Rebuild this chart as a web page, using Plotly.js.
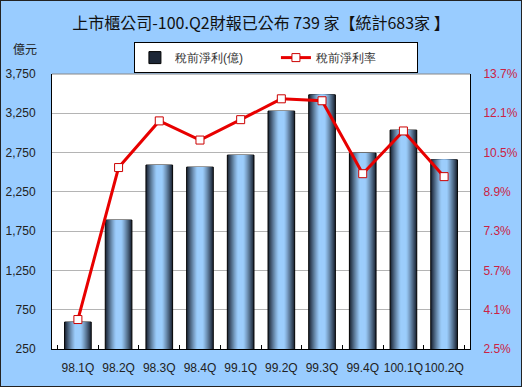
<!DOCTYPE html>
<html>
<head>
<meta charset="utf-8">
<script src="https://cdn.plot.ly/plotly-3.0.1.min.js"></script>
<style>
  html, body { margin: 0; padding: 0; background: #99ccff; }
  #wrap { width: 522px; height: 387px; box-sizing: border-box; border: 1px solid #222; overflow: hidden; }
  #chart { width: 520px; height: 385px; }
</style>
</head>
<body>
<div id="wrap"><div id="chart"></div></div>
<script>
// ---- data ----
const quarters = ['98.1Q','98.2Q','98.3Q','98.4Q','99.1Q','99.2Q','99.3Q','99.4Q','100.1Q','100.2Q'];
const profit = [593, 1891, 2591, 2565, 2718, 3278, 3485, 2743, 3036, 2658];   // 稅前淨利(億)
const margin = [3.70, 9.89, 11.79, 11.01, 11.84, 12.69, 12.61, 9.64, 11.38, 9.52]; // 稅前淨利率 %
const leftTicks = [250, 750, 1250, 1750, 2250, 2750, 3250, 3750];
const rightTicks = [2.5, 4.1, 5.7, 7.3, 8.9, 10.5, 12.1, 13.7];
const rightTickText = ['2.5%', '4.1%', '5.7%', '7.3%', '8.9%', '10.5%', '12.1%', '13.7%'];
const titleText = '上市櫃公司-100.Q2財報已公布 739 家【統計683家 】';
const barName = '稅前淨利(億)';
const lineName = '稅前淨利率';
const unitLabel = '億元';

// ---- styling helpers ----
const FONT = 'Liberation Sans, Arial, sans-serif';
const dark = [22, 30, 44], light = [156, 205, 252];
function mix(t) {
  const c = dark.map((d, k) => Math.round(d + (light[k] - d) * t));
  return 'rgb(' + c.join(',') + ')';
}
const W0 = 0.655, N = 14;
const traces = [];
for (let i = 0; i < N; i++) {
  const dMid = 1 - (i + 0.5) / N;          // distance from bar centre
  let t = dMid < 0.2 ? 1 : 1 - Math.pow((dMid - 0.2) / 0.8, 1.15);
  t = Math.max(0, Math.min(1, t));
  traces.push({
    type: 'bar', x: quarters, y: profit, name: barName,
    width: W0 * (1 - i / N),
    marker: { color: mix(t),
              line: { color: '#000', width: i === 0 ? 1 : 0 } },
    showlegend: i === 0, hoverinfo: 'skip', yaxis: 'y'
  });
}
traces.push({
  type: 'scatter', mode: 'lines+markers', x: quarters, y: margin, name: lineName,
  yaxis: 'y2',
  line: { color: '#e80000', width: 3 },
  marker: { symbol: 'square', size: 8, color: '#ffffff', line: { color: '#cc0000', width: 1 } }
});

const layout = {
  width: 520, height: 385,
  paper_bgcolor: '#99ccff', plot_bgcolor: '#ffffff',
  margin: { l: 51, r: 51, t: 73, b: 37 },
  barmode: 'overlay',
  font: { family: FONT, size: 12, color: '#222' },
  title: { text: titleText, x: 0.5, xanchor: 'center', y: 0.943, yanchor: 'middle',
           font: { family: 'Noto Sans CJK TC, sans-serif', size: 16, color: '#111' } },
  xaxis: {
    type: 'category', showline: true, linecolor: '#000', linewidth: 1,
    ticks: 'inside', tickson: 'boundaries', ticklen: 4, tickcolor: '#000',
    tickangle: 0, ticklabelstandoff: 8, tickfont: { family: FONT, size: 12, color: '#222' },
    showgrid: false, fixedrange: true
  },
  yaxis: {
    range: [250, 3750], tickvals: leftTicks, tickformat: ',d',
    showline: true, linecolor: '#000', linewidth: 1, ticks: '',
    showgrid: true, gridcolor: '#b4b4b4', gridwidth: 1, zeroline: false,
    ticklabelstandoff: 13, tickfont: { family: FONT, size: 12, color: '#222' }
  },
  yaxis2: {
    overlaying: 'y', side: 'right', range: [2.5, 13.7],
    tickvals: rightTicks, ticktext: rightTickText,
    showgrid: false, zeroline: false,
    showline: true, linecolor: '#000', linewidth: 1, ticks: '',
    ticklabelstandoff: 10, tickfont: { family: FONT, size: 12, color: '#cc2244' }
  },
  legend: {
    orientation: 'h', x: 0.196, xanchor: 'left', y: 1.116, yanchor: 'top',
    bgcolor: '#ffffff', bordercolor: '#000', borderwidth: 1,
    font: { family: FONT, size: 12, color: '#333' },
    entrywidth: 96, traceorder: 'normal'
  },
  shapes: [{ type: 'line', xref: 'paper', yref: 'paper', x0: 0, x1: 1, y0: 1, y1: 1,
             line: { color: '#888', width: 1 } }],
  annotations: [{ text: unitLabel, xref: 'paper', yref: 'paper', x: -0.065, y: 1.091,
                  xanchor: 'center', yanchor: 'middle', showarrow: false,
                  font: { family: 'Noto Sans CJK TC, sans-serif', size: 12, color: '#222' } }]
};

Plotly.newPlot('chart', traces, layout, { staticPlot: true, displayModeBar: false });
</script>
</body>
</html>
